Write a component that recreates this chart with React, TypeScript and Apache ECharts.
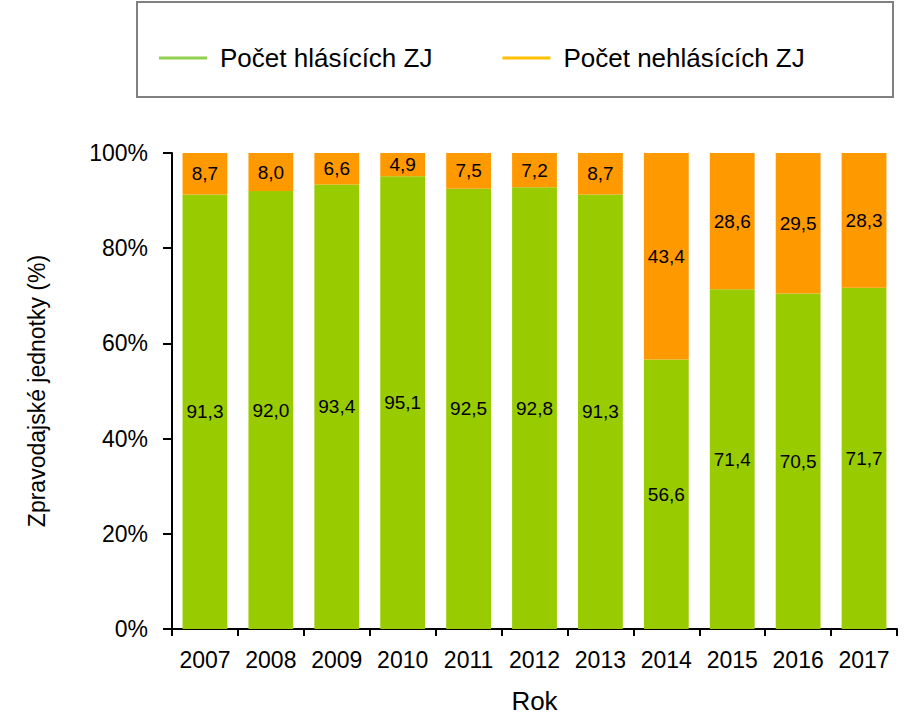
import React, { useEffect, useRef } from "react";
import * as echarts from "echarts";

const years = ["2007", "2008", "2009", "2010", "2011", "2012", "2013", "2014", "2015", "2016", "2017"];
const reporting = [91.3, 92.0, 93.4, 95.1, 92.5, 92.8, 91.3, 56.6, 71.4, 70.5, 71.7];
const nonReporting = [8.7, 8.0, 6.6, 4.9, 7.5, 7.2, 8.7, 43.4, 28.6, 29.5, 28.3];
const seriesNames = ["Počet hlásících ZJ", "Počet nehlásících ZJ"];
const yTicks = [0, 20, 40, 60, 80, 100];

const FONT = "Liberation Sans, Arial, sans-serif";

export default function App() {
  const ref = useRef<HTMLDivElement>(null);
  useEffect(() => {
    if (!ref.current) return;
    const chart = echarts.init(ref.current, null, { renderer: "svg" });
    const fmt = (p: any) => Number(p.value).toFixed(1).replace(".", ",");
    chart.setOption({
      animation: false,
      textStyle: { fontFamily: FONT },
      graphic: [
        {
          type: "rect",
          shape: { x: 137, y: 2, width: 756, height: 95 },
          style: { fill: "#fff", stroke: "#808080", lineWidth: 2 },
          z: -1,
        },
      ],
      legend: {
        top: 40,
        left: 154,
        itemGap: 70,
        itemWidth: 48,
        itemHeight: 3,
        icon: "rect",
        textStyle: { fontSize: 26, color: "#000", fontFamily: FONT, padding: [0, 0, 0, 8] },
        data: [
          { name: seriesNames[0], itemStyle: { color: "#92D050" } },
          { name: seriesNames[1], itemStyle: { color: "#FFC000" } },
        ],
      },
      grid: { left: 172, right: 7, top: 153, bottom: 87, containLabel: false },
      xAxis: {
        type: "category",
        data: years,
        name: "Rok",
        nameLocation: "middle",
        nameGap: 59,
        nameTextStyle: { fontSize: 26, color: "#000", fontFamily: FONT },
        axisLine: { lineStyle: { color: "#000", width: 2 } },
        axisTick: { show: true, length: 7, lineStyle: { color: "#000", width: 2 } },
        axisLabel: { fontSize: 23, color: "#000", margin: 19, fontFamily: FONT, interval: 0 },
      },
      yAxis: {
        type: "value",
        min: 0,
        max: 100,
        interval: 20,
        name: "Zpravodajské jednotky (%)",
        nameLocation: "middle",
        nameGap: 124,
        nameTextStyle: { fontSize: 23, color: "#000", fontFamily: FONT },
        axisLine: { show: true, lineStyle: { color: "#000", width: 2 } },
        axisTick: { show: true, length: 9, lineStyle: { color: "#000", width: 2 } },
        splitLine: { show: false },
        axisLabel: {
          fontSize: 23,
          color: "#000",
          margin: 24,
          fontFamily: FONT,
          formatter: (v: number) => (yTicks.includes(v) ? v + "%" : ""),
        },
      },
      series: [
        {
          name: seriesNames[0],
          type: "bar",
          stack: "total",
          barWidth: "68%",
          data: reporting,
          itemStyle: { color: "#99CC00" },
          label: { show: true, position: "inside", color: "#000", fontSize: 19, fontFamily: FONT, formatter: fmt },
        },
        {
          name: seriesNames[1],
          type: "bar",
          stack: "total",
          barWidth: "68%",
          data: nonReporting,
          itemStyle: { color: "#FF9900" },
          label: { show: true, position: "inside", color: "#000", fontSize: 19, fontFamily: FONT, formatter: fmt },
        },
      ],
    });
    return () => chart.dispose();
  }, []);
  return <div ref={ref} style={{ width: 904, height: 719, position: "absolute", left: 0, top: 0 }} />;
}
